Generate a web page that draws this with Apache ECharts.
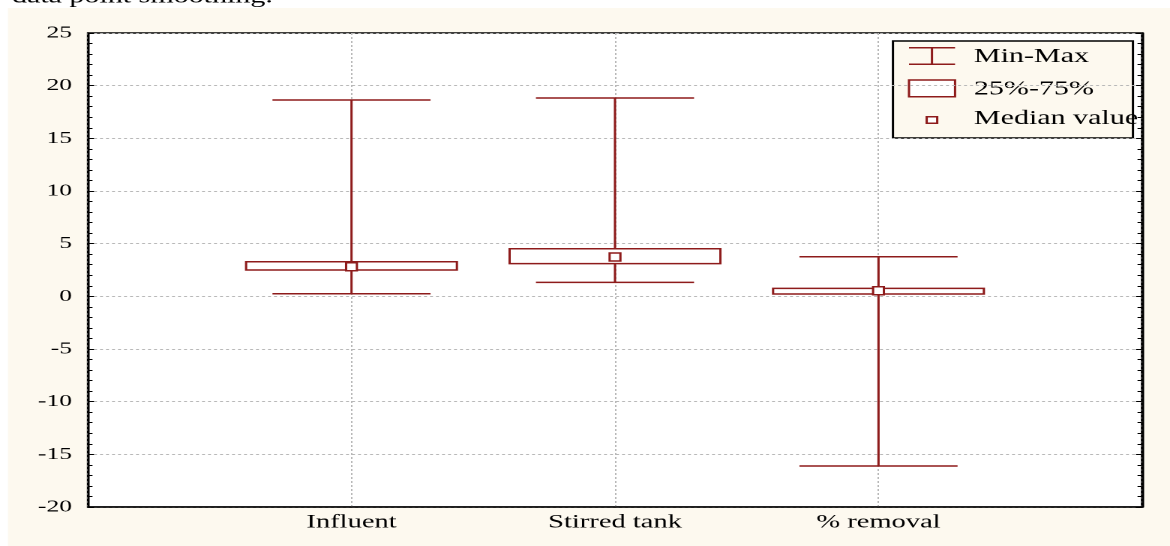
<!DOCTYPE html>
<html>
<head>
<meta charset="utf-8">
<script src="https://cdn.jsdelivr.net/npm/echarts@6/dist/echarts.min.js"></script>
<style>
  html, body { margin: 0; padding: 0; background: #ffffff; overflow: hidden; }
  /* The chart is laid out on a 780px-wide canvas and stretched horizontally to 1170px */
  #chart { width: 780px; height: 546px; transform: scaleX(1.5); transform-origin: 0 0; }
</style>
</head>
<body>
<div id="chart"></div>
<script>
// Box-and-whisker summary per category
const categories = ['Influent', 'Stirred tank', '% removal'];
const maxVals    = [18.64, 18.83, 3.76];
const q3Vals     = [3.28, 4.52, 0.76];
const medianVals = [2.81, 3.73, 0.53];
const q1Vals     = [2.5, 3.1, 0.22];
const minVals    = [0.25, 1.33, -16.11];
const legendLabels = ['Min-Max', '25%-75%', 'Median value'];

const RED = '#8e1b1b';
const CREAM = '#fdf9ef';
const SERIF = "'Liberation Serif', 'Times New Roman', serif";

// rows: [x position, min, q1, median, q3, max]
const rows = categories.map((c, i) => [i + 1, minVals[i], q1Vals[i], medianVals[i], q3Vals[i], maxVals[i]]);

function renderBox(params, api) {
  const x = api.value(0);
  const unit = api.size([1, 0])[0];
  const boxHalf = unit * 0.4;
  const capHalf = unit * 0.3;
  const pMin = api.coord([x, api.value(1)]);
  const pQ1 = api.coord([x, api.value(2)]);
  const pMed = api.coord([x, api.value(3)]);
  const pQ3 = api.coord([x, api.value(4)]);
  const pMax = api.coord([x, api.value(5)]);
  const cx = pMin[0];
  const line = { stroke: RED, lineWidth: 1.5 };
  return {
    type: 'group',
    children: [
      { type: 'line', shape: { x1: cx, y1: pMax[1], x2: cx, y2: pMin[1] }, style: line },
      { type: 'line', shape: { x1: cx - capHalf, y1: pMax[1], x2: cx + capHalf, y2: pMax[1] }, style: line },
      { type: 'line', shape: { x1: cx - capHalf, y1: pMin[1], x2: cx + capHalf, y2: pMin[1] }, style: line },
      { type: 'rect', shape: { x: cx - boxHalf, y: pQ3[1], width: boxHalf * 2, height: pQ1[1] - pQ3[1] },
        style: { fill: '#ffffff', stroke: RED, lineWidth: 1.5 } },
      { type: 'rect', shape: { x: cx - 3.6, y: pMed[1] - 4, width: 7.2, height: 8 },
        style: { fill: '#ffffff', stroke: RED, lineWidth: 1.5 } }
    ]
  };
}

const chart = echarts.init(document.getElementById('chart'), null,
  { renderer: 'canvas', width: 780, height: 546, devicePixelRatio: 2 });

const grid = { left: 58.67, right: 18.67, top: 33, bottom: 39 };

chart.setOption({
  backgroundColor: '#ffffff',
  animation: false,
  textStyle: { fontFamily: SERIF },
  grid: Object.assign({ show: true, backgroundColor: '#ffffff', borderColor: '#000000', borderWidth: 1.5 }, grid),
  xAxis: {
    type: 'value', min: 0, max: 4, interval: 1,
    axisLine: { show: true, onZero: false, lineStyle: { color: '#000000', width: 1.5 } },
    axisTick: { show: false },
    axisLabel: {
      margin: 6, color: '#000000', fontFamily: SERIF, fontSize: 19,
      formatter: v => categories[v - 1] || ''
    },
    splitLine: { show: true, lineStyle: { color: '#b8b8b8', type: [2, 2], width: 1 } }
  },
  yAxis: [{
    type: 'value', min: -20, max: 25, interval: 5,
    axisLine: { show: true, onZero: false, lineStyle: { color: '#000000', width: 1.5 } },
    axisTick: { show: true, inside: true, length: 4, lineStyle: { color: '#000000' } },
    minorTick: { show: true, splitNumber: 5, length: 3, lineStyle: { color: '#000000' } },
    axisLabel: { margin: 10.7, color: '#000000', fontFamily: SERIF, fontSize: 17 },
    splitLine: { show: true, lineStyle: { color: '#b8b8b8', type: [2, 2], width: 1 } }
  }, {
    type: 'value', min: -20, max: 25, interval: 5, position: 'right',
    axisLine: { show: true, onZero: false, lineStyle: { color: '#000000', width: 1.5 } },
    axisTick: { show: true, inside: true, length: 4, lineStyle: { color: '#000000' } },
    minorTick: { show: true, splitNumber: 5, length: 3, lineStyle: { color: '#000000' } },
    axisLabel: { show: false },
    splitLine: { show: false }
  }],
  graphic: [
    // page panel behind the chart
    { type: 'rect', z: -10, silent: true, shape: { x: 5.33, y: 8, width: 780, height: 546 }, style: { fill: CREAM } },
    // caption line running off the top edge
    { type: 'text', x: 8, y: -3, silent: true,
      style: { text: 'data point smoothing.', fontFamily: SERIF, fontSize: 20, fill: '#000000', verticalAlign: 'middle' } },
    // legend
    { type: 'group', z: 100, children: [
      { type: 'rect', shape: { x: 595.3, y: 41, width: 160, height: 97 }, style: { fill: CREAM, stroke: '#000000', lineWidth: 1.5 } },
      { type: 'line', shape: { x1: 606, y1: 47.7, x2: 636.7, y2: 47.7 }, style: { stroke: RED, lineWidth: 1.5 } },
      { type: 'line', shape: { x1: 606, y1: 64.3, x2: 636.7, y2: 64.3 }, style: { stroke: RED, lineWidth: 1.5 } },
      { type: 'line', shape: { x1: 621.3, y1: 47.7, x2: 621.3, y2: 64.3 }, style: { stroke: RED, lineWidth: 1.5 } },
      { type: 'rect', shape: { x: 606, y: 80, width: 30.7, height: 16.7 }, style: { fill: '#ffffff', stroke: RED, lineWidth: 1.5 } },
      { type: 'rect', shape: { x: 617.8, y: 116.7, width: 7, height: 6.6 }, style: { fill: '#ffffff', stroke: RED, lineWidth: 1.5 } },
      { type: 'text', x: 649.3, y: 56.7, style: { text: legendLabels[0], fontFamily: SERIF, fontSize: 20, fill: '#000000', verticalAlign: 'middle' } },
      { type: 'text', x: 649.3, y: 89, style: { text: legendLabels[1], fontFamily: SERIF, fontSize: 20, fill: '#000000', verticalAlign: 'middle' } },
      { type: 'text', x: 649.3, y: 118.7, style: { text: legendLabels[2], fontFamily: SERIF, fontSize: 20, fill: '#000000', verticalAlign: 'middle' } }
    ] }
  ],
  series: [{
    type: 'custom',
    renderItem: renderBox,
    encode: { x: 0, y: [1, 2, 3, 4, 5] },
    data: rows,
    z: 10
  }]
});
</script>
</body>
</html>
